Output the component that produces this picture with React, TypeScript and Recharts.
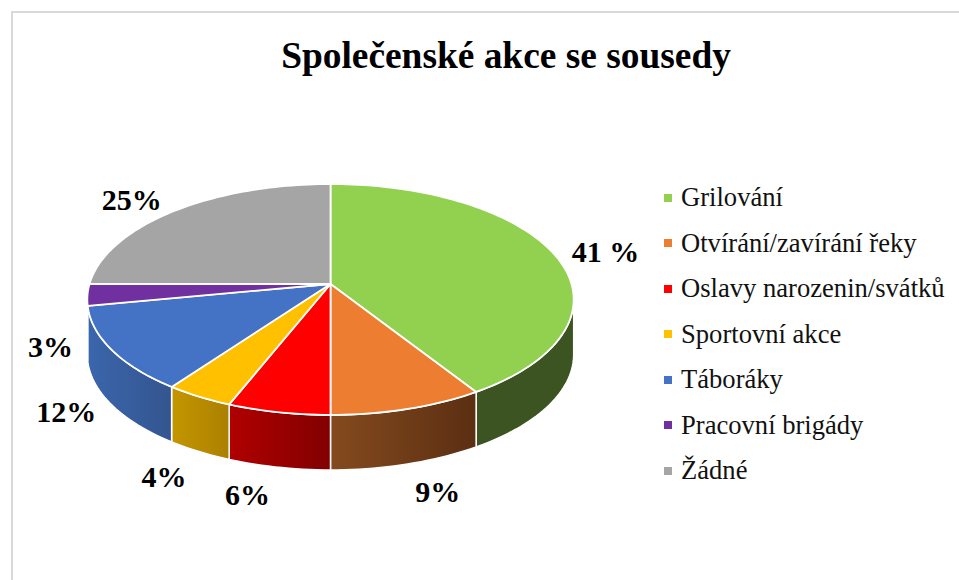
import React from "react";
import { PieChart, Pie, Legend } from "recharts";

const title = "Společenské akce se sousedy";
const categories = ["Grilování", "Otvírání/zavírání řeky", "Oslavy narozenin/svátků", "Sportovní akce", "Táboráky", "Pracovní brigády", "Žádné"];
const values = [41, 9, 6, 4, 12, 3, 25];
const valueLabels = ["41 %", "9%", "6%", "4%", "12%", "3%", "25%"];
const colors = ["#92d050", "#ed7d31", "#ff0000", "#ffc000", "#4472c4", "#7030a0", "#a5a5a5"];
const wallLeft = ["#3c5322", "#854a1e", "#b00000", "#c49600", "#3a66ac", "#4a2070", "#6e6e6e"];
const wallRight = ["#3c5322", "#5b2f12", "#820000", "#ab8000", "#34558f", "#4a2070", "#6e6e6e"];
const labelOffsets = [[52, -2], [30, 83], [-31, 82], [-35, 80], [-45, 62], [-37, 52], [-43, -11]];

const table = categories.map((name, i) => ({ name, value: values[i], fill: colors[i] }));

const FONT = "'Liberation Serif', 'Times New Roman', serif";
const CX = 330.5;
const CY = 284;
const R = 241;
const PERSP = 0.134;
const SQUASH = 0.4705;
const DEPTH = 55;
const RAD = Math.PI / 180;

// theta: degrees clockwise from the top of the disc, projected with perspective.
const project = (theta: number, cx: number, cy: number, r: number) => {
  const X = Math.sin(theta * RAD);
  const Y = -Math.cos(theta * RAD);
  const w = 1 - PERSP * Y;
  return [cx + (r * X) / w, cy + (r * SQUASH * Y) / w];
};

const arcPoints = (from: number, to: number, cx: number, cy: number, r: number) => {
  const n = Math.max(2, Math.ceil((to - from) / 1.5));
  const pts: number[][] = [];
  for (let i = 0; i <= n; i++) pts.push(project(from + ((to - from) * i) / n, cx, cy, r));
  return pts;
};

const toPath = (pts: number[][]) => pts.map((p, i) => `${i ? "L" : "M"}${p[0].toFixed(2)},${p[1].toFixed(2)}`).join(" ");

const Slice3D = (props: any) => {
  const { cx, cy, outerRadius, startAngle, endAngle, fill, name, payload } = props;
  const idx = categories.indexOf(name ?? payload?.name);
  const t0 = 90 - startAngle;
  const t1 = 90 - endAngle;
  const limit = Math.acos(-PERSP) / RAD;
  const w0 = Math.max(t0, limit);
  const w1 = Math.min(t1, 360 - limit);
  const rim = arcPoints(t0, t1, cx, cy, outerRadius);
  let wall = null;
  if (w1 > w0) {
    const front = arcPoints(w0, w1, cx, cy, outerRadius);
    const lower = front.map((p) => [p[0], p[1] + DEPTH]).reverse();
    const id = `wall-${idx}`;
    wall = (
      <g>
        <defs>
          <linearGradient id={id} x1="0" y1="0" x2="1" y2="0">
            <stop offset="0" stopColor={wallLeft[idx]} />
            <stop offset="1" stopColor={wallRight[idx]} />
          </linearGradient>
        </defs>
        <path d={`${toPath(front)} ${toPath(lower).replace("M", "L")} Z`} fill={`url(#${id})`} stroke="#ffffff" strokeWidth={1.5} strokeLinejoin="round" />
      </g>
    );
  }
  return (
    <g>
      {wall}
      <path d={`M${cx},${cy} ${toPath(rim).replace("M", "L")} Z`} fill={fill} stroke="#ffffff" strokeWidth={1.8} strokeLinejoin="round" />
    </g>
  );
};

const renderLabel = (props: any) => {
  const { cx, cy, midAngle, outerRadius, index } = props;
  const [x, y] = project(90 - midAngle, cx, cy, outerRadius);
  return (
    <text x={x + labelOffsets[index][0]} y={y + labelOffsets[index][1]} textAnchor="middle" dominantBaseline="central" fontFamily={FONT} fontWeight={700} fontSize={30} fill="#000000">
      {valueLabels[index]}
    </text>
  );
};

const renderLegend = (props: any) => (
  <div style={{ fontFamily: FONT, fontSize: 26.6, color: "#111111" }}>
    {(props.payload ?? []).map((e: any) => (
      <div key={e.value} style={{ display: "flex", alignItems: "center", height: 45.5, whiteSpace: "nowrap" }}>
        <span style={{ width: 8, height: 8, background: e.color, marginRight: 9, flex: "none" }} />
        <span>{e.value}</span>
      </div>
    ))}
  </div>
);

export default function App() {
  return (
    <div style={{ position: "absolute", left: 0, top: 0, width: 959, height: 580, background: "#ffffff", overflow: "hidden" }}>
      <div style={{ position: "absolute", left: 11, top: 11, width: 960, height: 600, borderLeft: "2px solid #d9d9d9", borderTop: "2px solid #d9d9d9" }} />
      <div style={{ position: "absolute", left: 0, top: 33, width: 1012, textAlign: "center", fontFamily: FONT, fontWeight: 700, fontSize: 37.4, lineHeight: "46px", color: "#000000", whiteSpace: "nowrap" }}>
        {title}
      </div>
      <div style={{ position: "absolute", left: 0, top: 0 }}>
        <PieChart width={959} height={580} margin={{ top: 0, right: 0, bottom: 0, left: 0 }}>
          <Pie
            data={table}
            dataKey="value"
            nameKey="name"
            cx={CX}
            cy={CY}
            outerRadius={R}
            startAngle={90}
            endAngle={-270}
            stroke="none"
            isAnimationActive={false}
            shape={Slice3D}
            label={renderLabel}
            labelLine={false}
          />
          <Legend content={renderLegend} itemSorter={null} layout="vertical" verticalAlign="top" align="right" wrapperStyle={{ left: 664, right: "auto", top: 175, width: 295 }} />
        </PieChart>
      </div>
    </div>
  );
}
